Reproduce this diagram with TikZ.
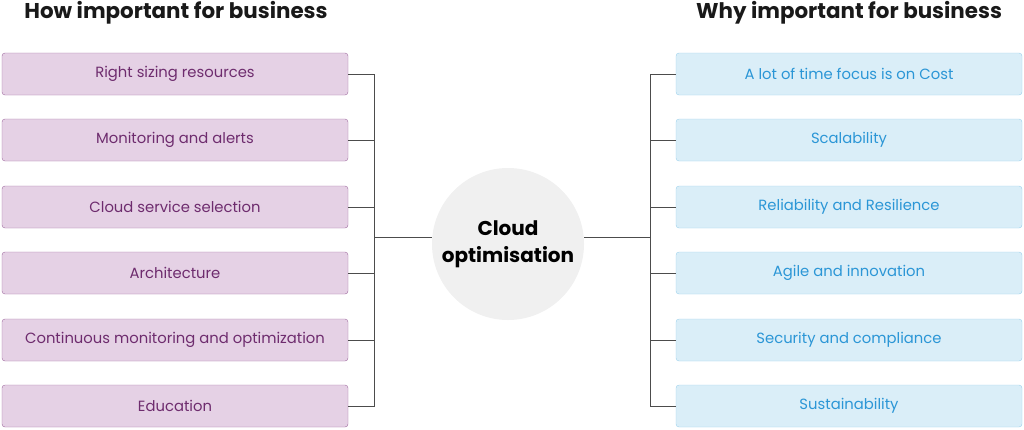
\documentclass[tikz,border=0pt]{standalone}
\usepackage{fontspec}
\setmainfont{Poppins}
\definecolor{plumfill}{HTML}{E5D1E5}
\definecolor{plumline}{HTML}{9E6A9E}
\definecolor{plumtext}{HTML}{6E2C6E}
\definecolor{skyfill}{HTML}{DAEEF8}
\definecolor{skyline}{HTML}{9CD0EC}
\definecolor{skytext}{HTML}{2B96D6}
\tikzset{
  howbox/.style={draw=plumline,fill=plumfill,rounded corners=3pt,minimum width=346pt,minimum height=42pt,text=plumtext,font=\fontsize{14.8}{17}\selectfont},
  whybox/.style={draw=skyline,fill=skyfill,rounded corners=3pt,minimum width=346pt,minimum height=42pt,text=skytext,font=\fontsize{14.8}{17}\selectfont},
  title/.style={font=\bfseries\fontsize{21.4}{24}\selectfont,text=black!90},
  branch/.style={draw=black!70,line width=0.8pt}
}
\begin{document}
\begin{tikzpicture}[x=1pt,y=-1pt]
  \useasboundingbox (0,0) rectangle (1024,429);
  % Titles
  \node[title] (howtitle) at (176,13) {How important for business};
  \node[title] (whytitle) at (849,13) {Why important for business};
  % Centre
  \node[circle,fill=black!6,minimum size=152pt,align=center,font=\bfseries\fontsize{20}{27}\selectfont] (cloud) at (508,244) {Cloud\\optimisation};
  \coordinate (lbus) at (374,237);
  \coordinate (rbus) at (650,237);
  % Boxes
  \foreach \i/\y/\txt in {1/74/Right sizing resources,2/140/Monitoring and alerts,3/207/Cloud service selection,4/273/Architecture,5/340/Continuous monitoring and optimization,6/406/Education}{
    \node[howbox] (how\i) at (175,\y) {\txt};
    \draw[branch] (how\i.east) -| (lbus);
  }
  \foreach \i/\y/\txt in {1/74/A lot of time focus is on Cost,2/140/Scalability,3/207/Reliability and Resilience,4/273/Agile and innovation,5/340/Security and compliance,6/406/Sustainability}{
    \node[whybox] (why\i) at (849,\y) {\txt};
    \draw[branch] (why\i.west) -| (rbus);
  }
  % Links to centre
  \draw[branch] (lbus) -- (cloud.west |- lbus);
  \draw[branch] (rbus) -- (cloud.east |- rbus);
\end{tikzpicture}
\end{document}
